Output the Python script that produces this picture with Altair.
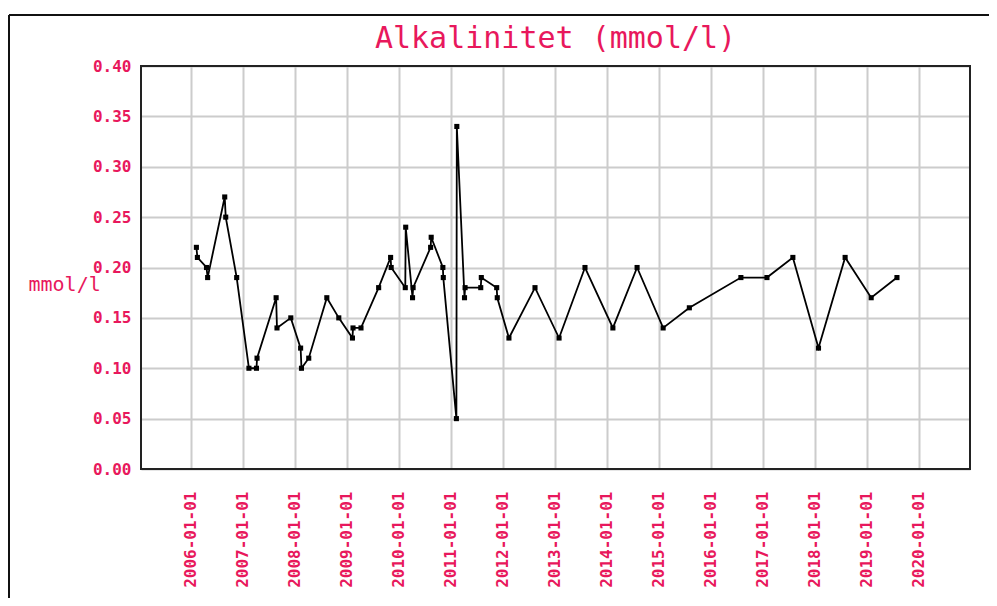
import altair as alt
import pandas as pd

PINK = "#e8185c"
FONT = "DejaVu Sans Mono"

dates = [
    "2006-02-10", "2006-02-17", "2006-04-22", "2006-04-30", "2006-08-28", "2006-09-04",
    "2006-11-20", "2007-02-14", "2007-04-08", "2007-04-12", "2007-08-24", "2007-08-30",
    "2007-12-05", "2008-02-12", "2008-02-18", "2008-04-09", "2008-08-14", "2008-11-06",
    "2009-02-10", "2009-02-14", "2009-04-11", "2009-08-13", "2009-11-05", "2009-11-09",
    "2010-02-16", "2010-02-19", "2010-04-08", "2010-04-12", "2010-08-13", "2010-08-17",
    "2010-11-07", "2010-11-10", "2011-02-10", "2011-02-13", "2011-04-08", "2011-04-12",
    "2011-07-31", "2011-08-04", "2011-11-20", "2011-11-24", "2012-02-14", "2012-08-15",
    "2013-01-31", "2013-08-01", "2014-02-13", "2014-08-02", "2015-02-01", "2015-08-04",
    "2016-07-31", "2017-01-30", "2017-07-31", "2018-01-27", "2018-08-02", "2019-02-01",
    "2019-08-01",
]
values = [
    0.22, 0.21, 0.20, 0.19, 0.27, 0.25,
    0.19, 0.10, 0.10, 0.11, 0.17, 0.14,
    0.15, 0.12, 0.10, 0.11, 0.17, 0.15,
    0.13, 0.14, 0.14, 0.18, 0.21, 0.20,
    0.18, 0.24, 0.17, 0.18, 0.22, 0.23,
    0.20, 0.19, 0.05, 0.34, 0.17, 0.18,
    0.18, 0.19, 0.18, 0.17, 0.13, 0.18,
    0.13, 0.20, 0.14, 0.20, 0.14, 0.16,
    0.19, 0.19, 0.21, 0.12, 0.21, 0.17,
    0.19,
]
y_ticks = [0.0, 0.05, 0.10, 0.15, 0.20, 0.25, 0.30, 0.35, 0.40]
x_years = list(range(2006, 2021))

df = pd.DataFrame({"date": dates, "value": values})

x_enc = alt.X(
    "date:T",
    scale=alt.Scale(domain=[alt.DateTime(year=2005, month=1, date=17),
                            alt.DateTime(year=2020, month=12, date=26)]),
    axis=alt.Axis(
        values=[alt.DateTime(year=y, month=1, date=1) for y in x_years],
        format="%Y-%m-%d",
        labelAngle=270,
        labelPadding=22,
        labelFont=FONT,
        labelFontSize=16,
        labelFontWeight="bold",
        labelColor=PINK,
        ticks=False,
        domain=False,
        grid=True,
        gridColor="#cccccc",
        gridWidth=2,
        title=None,
        labelOverlap=False,
    ),
)
y_enc = alt.Y(
    "value:Q",
    scale=alt.Scale(domain=[0, 0.4], nice=False),
    axis=alt.Axis(
        values=y_ticks,
        format=".2f",
        labelPadding=10,
        labelFont=FONT,
        labelFontSize=16,
        labelFontWeight="bold",
        labelColor=PINK,
        ticks=False,
        domain=False,
        grid=True,
        gridColor="#cccccc",
        gridWidth=2,
        title="mmol/l",
        titleAngle=0,
        titleFont=FONT,
        titleFontSize=20,
        titleFontWeight="normal",
        titleColor=PINK,
        titleX=-113,
        titleY=224,
        titleAlign="left",
        titleBaseline="alphabetic",
    ),
)

line = alt.Chart(df).mark_line(
    color="black",
    strokeWidth=1.8,
    point=alt.OverlayMarkDef(shape="square", size=26, filled=True, color="black"),
).encode(x=x_enc, y=y_enc)

frame_data = alt.Data(values=[{"k": 1}])
plot_border = alt.Chart(frame_data).mark_rect(
    fill=None, fillOpacity=0, stroke="#222", strokeWidth=2
).encode(x=alt.value(0), x2=alt.value(829), y=alt.value(0), y2=alt.value(403))
top_rule = alt.Chart(frame_data).mark_rule(color="#111", strokeWidth=2).encode(
    x=alt.value(-132), x2=alt.value(900), y=alt.value(-51)
)
left_rule = alt.Chart(frame_data).mark_rule(color="#111", strokeWidth=2).encode(
    x=alt.value(-132), y=alt.value(-51), y2=alt.value(600)
)

chart = alt.layer(line, plot_border, top_rule, left_rule).properties(
    width=829,
    height=403,
    title=alt.TitleParams(
        "Alkalinitet (mmol/l)",
        font=FONT,
        fontSize=30,
        fontWeight="normal",
        color=PINK,
        anchor="middle",
        frame="group",
        offset=0,
        dy=40,
    ),
    autosize=alt.AutoSizeParams(type="none"),
    padding={"left": 133, "top": 58, "right": 19, "bottom": 129},
).configure_view(
    stroke=None
)

chart.save("out.html", embed_options={"renderer": "svg", "actions": False})
